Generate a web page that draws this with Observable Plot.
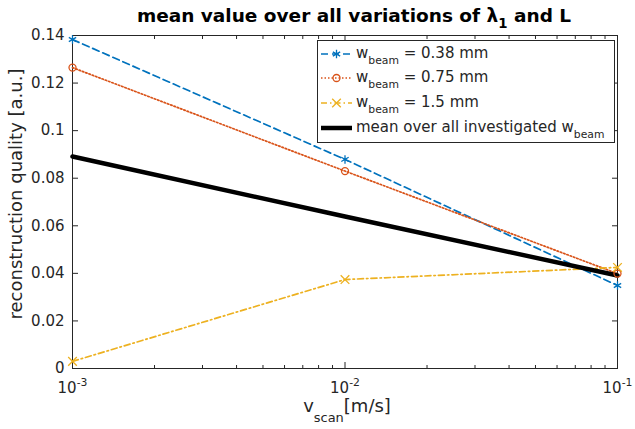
<!DOCTYPE html>
<html>
<head>
<meta charset="utf-8">
<script src="https://cdn.jsdelivr.net/npm/d3@7"></script>
<script src="https://cdn.jsdelivr.net/npm/@observablehq/plot@0.6"></script>
<style>
  html, body { margin: 0; padding: 0; background: #ffffff; }
  svg { display: block; }
</style>
</head>
<body>
<div id="chart"></div>
<script>
// ---------- data ----------
const vScan = [0.001, 0.01, 0.1];
const quality038 = [0.1383, 0.0879, 0.0349];
const quality075 = [0.1265, 0.0830, 0.0399];
const quality15 = [0.0030, 0.0374, 0.0425];
const qualityMean = [0.0891, 0.0639, 0.0391];
const seriesNames = [
  "w_{beam} = 0.38 mm",
  "w_{beam} = 0.75 mm",
  "w_{beam} = 1.5 mm",
  "mean over all investigated w_{beam}"
];
const xTickValues = [0.001, 0.01, 0.1];
const xTickLabels = ["10^{-3}", "10^{-2}", "10^{-1}"];
const xMinorTicks = [0.002, 0.003, 0.004, 0.005, 0.006, 0.007, 0.008, 0.009,
                     0.02, 0.03, 0.04, 0.05, 0.06, 0.07, 0.08, 0.09];
const yTickValues = [0, 0.02, 0.04, 0.06, 0.08, 0.1, 0.12, 0.14];
const yTickLabels = ["0", "0.02", "0.04", "0.06", "0.08", "0.1", "0.12", "0.14"];
const titleText = "mean value over all variations of λ_{1} and L";
const xLabelText = "v_{scan}[m/s]";
const yLabelText = "reconstruction quality [a.u.]";

// ---------- styles ----------
const seriesColors = ["#0072BD", "#D95319", "#EDB120", "#000000"];
const seriesDash = ["7,4", "1.5,2", "6,3,1.5,3", null];
const seriesSymbols = ["asterisk", "circle", "times", null];
const seriesWidths = [1.7, 1.7, 1.7, 4.5];
const axisColor = "#262626";
const font = "DejaVu Sans";

const seriesValues = [quality038, quality075, quality15, qualityMean];
const rows = seriesValues.flatMap((vals, s) => vals.map((q, i) => ({series: s, v: vScan[i], q})));

const lineMarks = seriesValues.map((_, s) =>
  Plot.line(rows.filter(d => d.series === s), {
    x: "v", y: "q", stroke: seriesColors[s], strokeWidth: seriesWidths[s],
    strokeDasharray: seriesDash[s] ?? undefined
  })
);
const dotMarks = seriesValues.map((_, s) => seriesSymbols[s] ?
  Plot.dot(rows.filter(d => d.series === s), {
    x: "v", y: "q", stroke: seriesColors[s], symbol: seriesSymbols[s],
    r: s === 1 ? 3.5 : 4, strokeWidth: 1.3, fill: "none"
  }) : null).filter(Boolean);

const svg = Plot.plot({
  width: 635, height: 429,
  marginTop: 35, marginRight: 18, marginBottom: 61, marginLeft: 72,
  style: {fontFamily: font, fontSize: "15px", color: axisColor, background: "#ffffff", overflow: "visible"},
  x: {type: "log", domain: [0.001, 0.1], label: null},
  y: {domain: [0, 0.14], label: null},
  marks: [
    Plot.axisX(xTickValues, {anchor: "bottom", tickSize: -6, tickPadding: 20, label: null,
      tickFormat: d => xTickLabels[xTickValues.indexOf(d)], stroke: axisColor, fill: axisColor, fontSize: 15}),
    Plot.axisX(xMinorTicks, {anchor: "bottom", tickSize: -3, label: null, tickFormat: () => "", stroke: axisColor}),
    Plot.axisX(xTickValues, {anchor: "top", tickSize: -6, label: null, tickFormat: () => "", stroke: axisColor}),
    Plot.axisX(xMinorTicks, {anchor: "top", tickSize: -3, label: null, tickFormat: () => "", stroke: axisColor}),
    Plot.axisY(yTickValues, {anchor: "left", tickSize: -6, tickPadding: 14, label: null,
      tickFormat: d => yTickLabels[yTickValues.indexOf(d)], stroke: axisColor, fill: axisColor, fontSize: 15}),
    Plot.axisY(yTickValues, {anchor: "right", tickSize: -6, label: null, tickFormat: () => "", stroke: axisColor}),
    Plot.frame({stroke: axisColor, strokeWidth: 1}),
    ...lineMarks,
    ...dotMarks
  ]
});
document.getElementById("chart").appendChild(svg);

// ---------- rich text helper (sub/superscripts) ----------
function richText(el, str, size, subShift = 0.45) {
  const sel = d3.select(el);
  sel.text(null);
  const re = /([_^])\{([^}]*)\}/g;
  const parts = [];
  let last = 0, m;
  while ((m = re.exec(str))) {
    if (m.index > last) parts.push({t: str.slice(last, m.index), k: ""});
    parts.push({t: m[2], k: m[1]});
    last = re.lastIndex;
  }
  if (last < str.length) parts.push({t: str.slice(last), k: ""});
  let cur = 0;
  for (const p of parts) {
    const target = p.k === "_" ? size * subShift : p.k === "^" ? -size * 0.45 : 0;
    const ts = sel.append("tspan").text(p.t).attr("dy", target - cur);
    if (p.k) ts.attr("font-size", size * 0.72);
    cur = target;
  }
}

const root = d3.select(svg);
root.selectAll("text").each(function () {
  const s = this.textContent;
  if (/[_^]\{/.test(s)) richText(this, s, 15);
});

const ann = root.append("g").attr("font-family", font).attr("fill", axisColor);

// title
const title = ann.append("text").attr("x", 354).attr("y", 22)
  .attr("text-anchor", "middle").attr("font-weight", "bold").attr("font-size", 18.5).attr("fill", "#000");
richText(title.node(), titleText, 18.5, 0.35);

// x label
const xl = ann.append("text").attr("x", 347).attr("y", 412)
  .attr("text-anchor", "middle").attr("font-size", 18);
richText(xl.node(), xLabelText, 18, 0.55);

// y label
ann.append("text").attr("transform", "translate(22,194) rotate(-90)")
  .attr("text-anchor", "middle").attr("font-size", 18).text(yLabelText);

// ---------- legend ----------
const lg = root.append("g").attr("font-family", font).attr("text-anchor", "start");
lg.append("rect").attr("x", 317.5).attr("y", 40.5).attr("width", 297).attr("height", 102)
  .attr("fill", "#fff").attr("stroke", axisColor).attr("stroke-width", 1);
const legendY = [54, 78, 103, 128];
seriesNames.forEach((name, s) => {
  const y = legendY[s];
  lg.append("line").attr("x1", 321).attr("x2", 352).attr("y1", y).attr("y2", y)
    .attr("stroke", seriesColors[s]).attr("stroke-width", seriesWidths[s])
    .attr("stroke-dasharray", seriesDash[s]);
  if (seriesSymbols[s]) {
    const sym = {asterisk: d3.symbolAsterisk, circle: d3.symbolCircle, times: d3.symbolTimes}[seriesSymbols[s]];
    const r = s === 1 ? 3.5 : 4;
    lg.append("path").attr("transform", `translate(336.5,${y})`)
      .attr("d", d3.symbol(sym, Math.PI * r * r)())
      .attr("fill", "none").attr("stroke", seriesColors[s]).attr("stroke-width", 1.3);
  }
  const t = lg.append("text").attr("x", 356).attr("y", y + 4).attr("text-anchor", "start")
    .attr("font-size", 15).attr("fill", axisColor);
  richText(t.node(), name, 15, 0.42);
});
</script>
</body>
</html>
